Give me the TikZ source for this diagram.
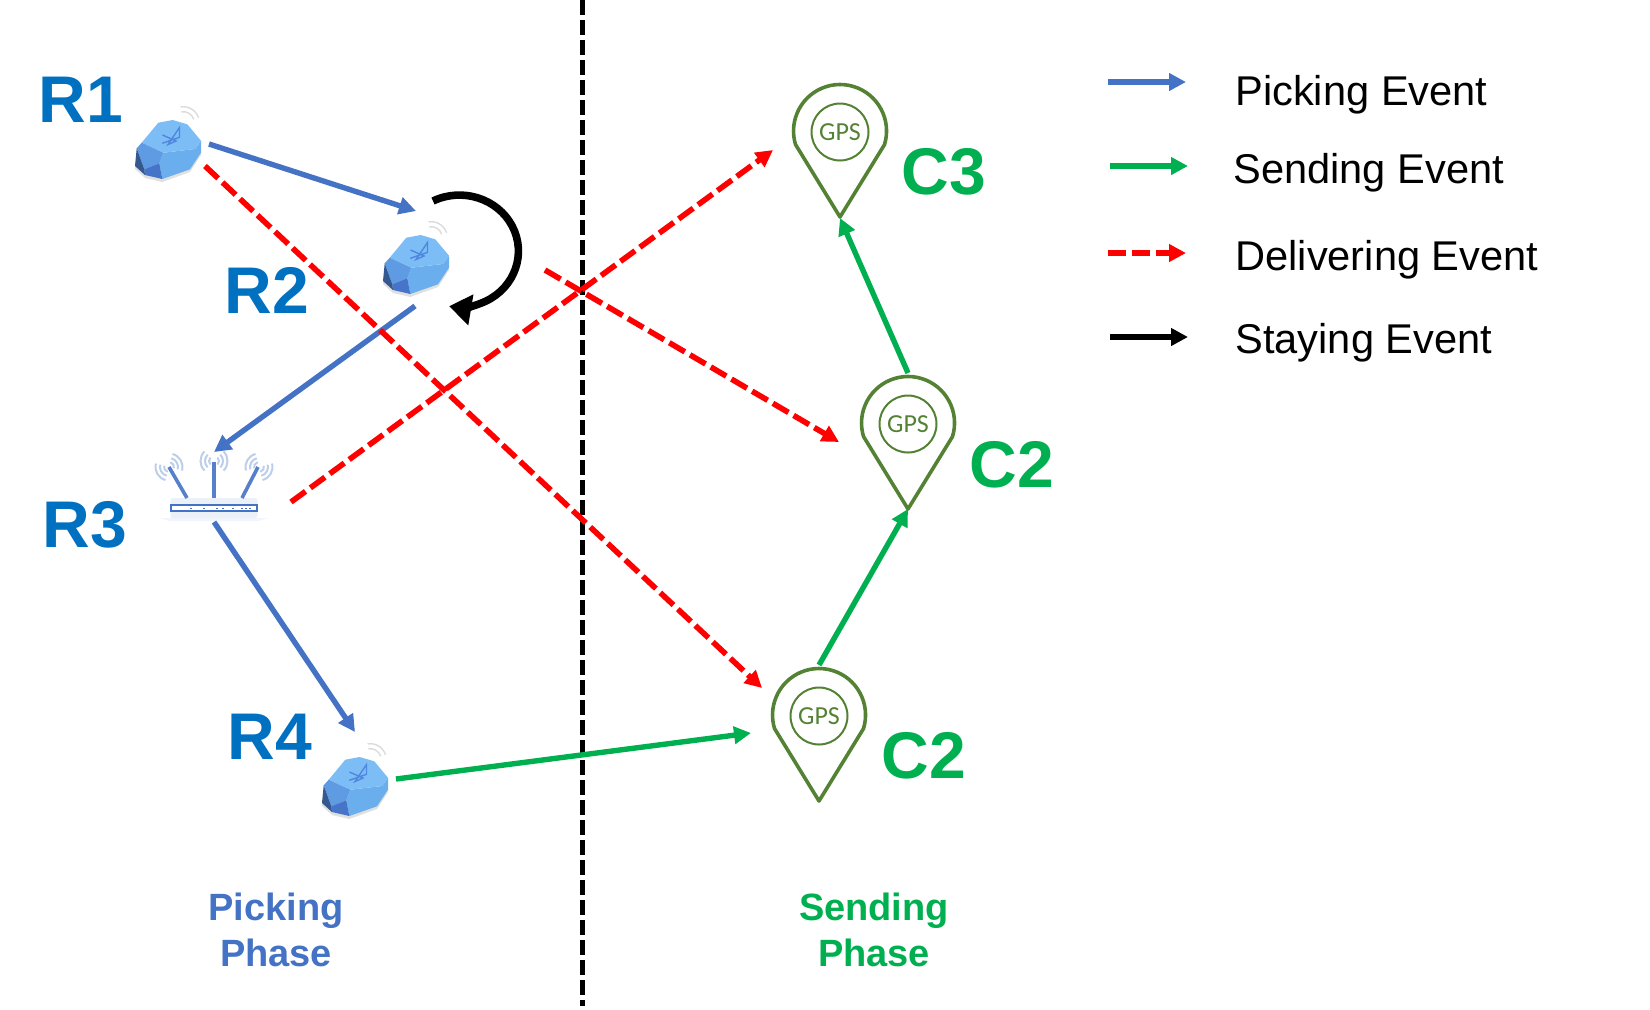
\documentclass[tikz,border=0pt]{standalone}
\usepackage{amsmath}
\usepackage{fontspec}
\setmainfont{Liberation Sans}
\newfontfamily\gpsfont{Carlito}
\usetikzlibrary{arrows.meta}
\definecolor{pickblue}{HTML}{4472C4}
\definecolor{sendgreen}{HTML}{00B050}
\definecolor{labelblue}{HTML}{0070C0}
\definecolor{pinolive}{HTML}{548235}
\definecolor{stonefront}{RGB}{107,174,238}
\definecolor{stonetop}{RGB}{124,189,246}
\definecolor{stoneleft}{RGB}{95,155,227}
\definecolor{stonelow}{RGB}{70,116,200}
\definecolor{stonedark}{RGB}{52,88,143}
\definecolor{stonerune}{RGB}{80,135,222}
\tikzset{
  picking/.style={draw=pickblue, line width=2.7pt, -{Triangle[length=8.5pt,width=8.5pt]}},
  sending/.style={draw=sendgreen, fill=sendgreen, line width=2.7pt, -{Triangle[length=8.5pt,width=8.5pt]}},
  delivering/.style={draw=red, line width=2.8pt, dash pattern=on 9pt off 3pt, -{Triangle[length=8.5pt,width=8.5pt]}},
  staying/.style={draw=black, line width=2.8pt, -{Triangle[length=8.5pt,width=8.5pt]}},
  bigname/.style={font=\fontsize{33}{33}\selectfont\bfseries, inner sep=0pt, anchor=base},
  legendtext/.style={font=\fontsize{20.8}{24}\selectfont, inner sep=0pt, anchor=base west},
  phase/.style={font=\fontsize{19}{23}\selectfont\bfseries, inner sep=0pt, align=center},
  gpscircle/.style={circle, draw=pinolive, line width=1pt, minimum size=28.5pt, inner sep=0pt,
    text=pinolive, font=\fontsize{13}{13}\gpsfont},
  pinline/.style={draw=pinolive, line width=1.8pt, line join=round},
  sensor/.style={minimum width=38pt, minimum height=50pt, inner sep=0pt, path picture={
    \begin{scope}[shift={(path picture bounding box.center)}]
      \draw[black!14, line width=.7pt] (15.3,-27.3) ++(-100:16) arc[start angle=-100,end angle=-18,radius=16];
      \draw[black!14, line width=.7pt] (15.3,-27.3) ++(-100:11) arc[start angle=-100,end angle=-18,radius=11];
      \fill[black!12] (-33,19) -- (-23,28) -- (-5.7,32) -- (22,22) -- (33,5) -- (33,2) -- (-33,14) -- cycle;
      \fill[stonefront] (-4.7,2.7) -- (27,-1) -- (33,-9.3) -- (33,2.7) -- (22,19.3) -- (-5.7,29) -- (-8.7,13.3) -- cycle;
      \fill[stonetop] (-9.7,-27.3) -- (4.7,-30) -- (19.3,-25.7) -- (33,-9.3) -- (27,-1) -- (-4.7,2.7) -- (-26.3,-7.3) -- cycle;
      \fill[stoneleft] (-26.3,-7.3) -- (-4.7,2.7) -- (-8.7,13.3) -- (-23.7,19.3) -- (-31.3,-1.7) -- cycle;
      \fill[stonelow] (-23.7,19.3) -- (-8.7,13.3) -- (-5.7,29) -- (-23,25) -- cycle;
      \fill[stonedark] (-31.3,-1.7) -- (-23.7,19.3) -- (-23,25) -- (-33,16) -- cycle;
      \draw[stonerune, line width=.7pt] (-5.5,-15) -- (8,-9) -- (0,-5.5) -- (11.5,-22.5) -- (11.5,-12.7) -- (-5.7,-6.7);
    \end{scope}}},
  router/.style={minimum width=62pt, minimum height=36pt, inner sep=0pt, path picture={
    \begin{scope}[shift={(path picture bounding box.center)}]
      \foreach \tipx/\tipy/\turn in {-45/-19/-30, 0/-25/0, 45/-19/30}
        \foreach \rad in {5,9,13.5} {
          \draw[pickblue!35, line width=1pt] (\tipx,\tipy) ++(\turn-45:\rad) arc[start angle=\turn-45,end angle=\turn+45,radius=\rad];
          \draw[pickblue!35, line width=1pt] (\tipx,\tipy) ++(\turn+135:\rad) arc[start angle=\turn+135,end angle=\turn+225,radius=\rad];
        }
      \fill[pickblue!7] (-55,32) -- (55,32) -- (44,35) -- (-44,35) -- cycle;
      \fill[pickblue!10, rounded corners=1pt] (-43.5,12) rectangle (43.5,32);
      \draw[pickblue!90, line width=1.8pt] (-27,12) -- (-45,-19);
      \draw[pickblue!90, line width=1.8pt] (0,12) -- (0,-24);
      \draw[pickblue!90, line width=1.8pt] (28,12) -- (44,-19);
      \draw[pickblue, fill=white, line width=1.1pt] (-43,19) rectangle (43,25);
      \foreach \dotx in {-24,-11,2,8,18,27,31,35}
        \fill[pickblue] (\dotx,21.5) rectangle ++(1.5,1.5);
    \end{scope}}},
}
\begin{document}
\begin{tikzpicture}[x=0.5pt,y=-0.5pt]
\useasboundingbox (0,0) rectangle (1650,1009);
% divider
\coordinate (divtop) at (582,0);
\coordinate (divbot) at (582,1006);
\draw[line width=2.5pt, dash pattern=on 7.5pt off 2.5pt] (divtop) -- (divbot);
% readers
\node[sensor] (r1) at (168,150) {};
\node[sensor] (r2) at (416,265) {};
\node[router] (r3) at (214,486) {};
\node[sensor] (r4) at (355,787) {};
% gps pins
\node[gpscircle] (c3) at (840,132) {GPS};
\node[gpscircle] (c2m) at (908,424) {GPS};
\node[gpscircle] (c2b) at (819,716) {GPS};
\foreach \pin in {c3,c2m,c2b}
\draw[pinline] ([shift={(0,85)}]\pin.center) -- ([shift={(44.5,12.6)}]\pin.center)
  arc[start angle=17,end angle=-197,radius=46.5] -- cycle;
% names
\node[bigname, text=labelblue] (n1) at (81,122) {R1};
\node[bigname, text=labelblue] (n2) at (267,313) {R2};
\node[bigname, text=labelblue] (n3) at (85,547) {R3};
\node[bigname, text=labelblue] (n4) at (270,759) {R4};
\node[bigname, text=sendgreen] (m3) at (944,194) {C3};
\node[bigname, text=sendgreen] (m2) at (1012,487) {C2};
\node[bigname, text=sendgreen] (m1) at (924,778) {C2};
% connector ends
\coordinate (r1out) at (209,144);
\coordinate (r2in) at (416,211);
\coordinate (r2out) at (415,306);
\coordinate (r3in) at (214,452);
\coordinate (r3out) at (214,522);
\coordinate (r4in) at (355,732);
\coordinate (r4out) at (396,779);
\coordinate (c2bin) at (751,733);
\coordinate (c2btop) at (819,665);
\coordinate (c2mtip) at (908,509);
\coordinate (c2mtop) at (908,373);
\coordinate (c3tip) at (840,218);
\coordinate (r1red) at (205,166);
\coordinate (c2bred) at (762,688);
\coordinate (r3red) at (291,502);
\coordinate (c3red) at (773,150);
\coordinate (r2red) at (545,270);
\coordinate (c2mred) at (839,442);
\coordinate (stayfrom) at (433,201);
\foreach \from/\to in {r1out/r2in,r2out/r3in,r3out/r4in}
\draw[picking] (\from) -- (\to);
\foreach \from/\to in {r4out/c2bin,c2btop/c2mtip,c2mtop/c3tip}
\draw[sending] (\from) -- (\to);
\foreach \from/\to in {r1red/c2bred,r3red/c3red,r2red/c2mred}
\draw[delivering] (\from) -- (\to);
\draw[draw=black, line width=3.8pt, -{Triangle[length=11pt,width=15pt]}] (stayfrom)
  arc[start angle=-116.6,end angle=100,x radius=59,y radius=56];
% legend
\coordinate (l1a) at (1108,82); \coordinate (l1b) at (1186,82);
\coordinate (l2a) at (1110,166); \coordinate (l2b) at (1188,166);
\coordinate (l3a) at (1108,253); \coordinate (l3b) at (1186,253);
\coordinate (l4a) at (1110,337); \coordinate (l4b) at (1188,337);
\draw[picking] (l1a) -- (l1b);
\draw[sending] (l2a) -- (l2b);
\draw[delivering] (l3a) -- (l3b);
\draw[staying] (l4a) -- (l4b);
\node[legendtext] (t1) at (1235,105) {Picking Event};
\node[legendtext] (t2) at (1233,183) {Sending Event};
\node[legendtext] (t3) at (1235,270) {Delivering Event};
\node[legendtext] (t4) at (1235,353) {Staying Event};
% phases
\node[phase, text=pickblue] (pickphase) at (276,930) {Picking\\Phase};
\node[phase, text=sendgreen] (sendphase) at (874,930) {Sending\\Phase};
\end{tikzpicture}
\end{document}
